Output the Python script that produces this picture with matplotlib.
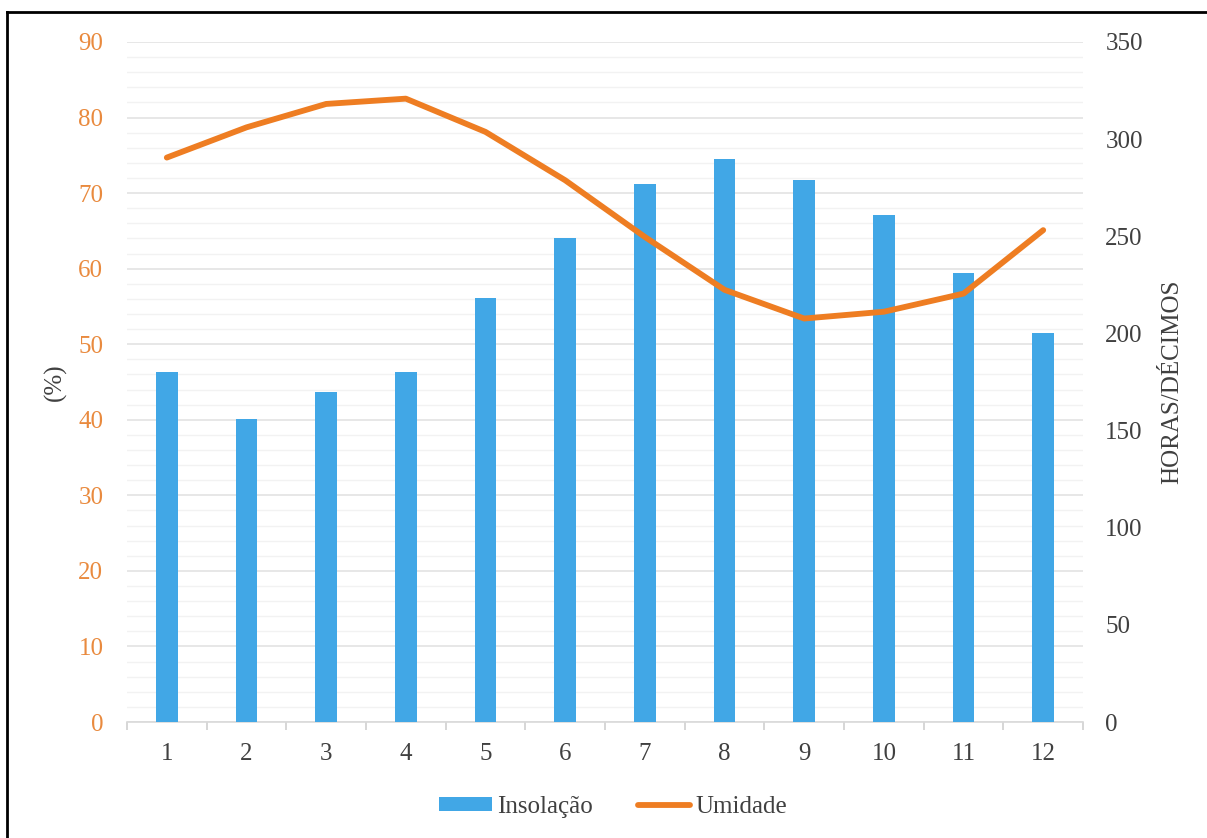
import matplotlib
matplotlib.use("Agg")
import matplotlib.pyplot as plt
from matplotlib.lines import Line2D
from matplotlib.patches import Patch
import numpy as np

plt.rcParams['font.family'] = ['Liberation Serif', 'DejaVu Serif']

months = ['1', '2', '3', '4', '5', '6', '7', '8', '9', '10', '11', '12']
insolacao = [180, 156, 170, 180, 218, 249, 277, 290, 279, 261, 231, 200]
umidade = [74.7, 78.7, 81.8, 82.5, 78.1, 71.7, 64.2, 57.2, 53.4, 54.3, 56.7, 65.1]

left_ticks = list(range(0, 91, 10))
right_ticks = list(range(0, 351, 50))

bar_color = '#41A7E6'
line_color = '#EE7D22'
grid_major = '#E3E3E3'
grid_minor = '#F2F2F2'
text_gray = '#404040'
label_orange = '#E98A3E'
FS = 18

fig = plt.figure(figsize=(12.07, 8.38), dpi=100)
ax = fig.add_axes([0.1052, 0.1384, 0.7921, 0.8115])
ax2 = ax.twinx()

x = np.arange(len(months))

# humidity axis (left) carries the grid
ax.set_ylim(0, 90)
ax.set_yticks(left_ticks)
ax.set_yticks(np.arange(0, 91, 2), minor=True)
ax.set_xlim(-0.5, len(months) - 0.5)
ax.grid(axis='y', which='major', color=grid_major, lw=1.2, zorder=0)
ax.grid(axis='y', which='minor', color=grid_minor, lw=1.0, zorder=0)
ax.set_axisbelow(True)
ax.tick_params(axis='y', which='both', length=0, labelsize=FS,
               labelcolor=label_orange, pad=17)
ax.set_ylabel('(%)', fontsize=FS, color=text_gray, labelpad=8)

# category ticks sit between the months
ax.set_xticks(x)
ax.set_xticklabels(months)
ax.set_xticks(np.arange(-0.5, len(months), 1), minor=True)
ax.tick_params(axis='x', which='major', length=0, labelsize=FS,
               labelcolor=text_gray, pad=15)
ax.tick_params(axis='x', which='minor', length=6, color='#D0D0D0', width=1.2)

for s in ['top', 'left', 'right']:
    ax.spines[s].set_visible(False)
ax.spines['bottom'].set_color('#D9D9D9')
ax.spines['bottom'].set_linewidth(1.2)

# sunshine hours (right axis) as bars
ax2.set_ylim(0, 350)
ax2.set_yticks(right_ticks)
ax2.bar(x, insolacao, width=0.27, color=bar_color, zorder=2)
ax2.tick_params(axis='y', length=0, labelsize=FS, labelcolor=text_gray, pad=16)
ax2.set_ylabel('HORAS/DÉCIMOS', fontsize=FS, color=text_gray, labelpad=13)
for s in ['top', 'left', 'right', 'bottom']:
    ax2.spines[s].set_visible(False)

# humidity line drawn above the bars
ax3 = ax.twinx()
ax3.set_ylim(0, 90)
ax3.axis('off')
ax3.plot(x, umidade, color=line_color, lw=4.2, solid_capstyle='round',
         solid_joinstyle='round', zorder=3)

handles = [Patch(facecolor=bar_color, edgecolor='none'),
           Line2D([0], [0], color=line_color, lw=4.2, solid_capstyle='round')]
fig.legend(handles, ['Insolação', 'Umidade'], loc='center',
           bbox_to_anchor=(0.508, 0.037), ncol=2, frameon=False,
           fontsize=FS, handlelength=2.1, handletextpad=0.2,
           columnspacing=1.8, labelcolor=text_gray, handleheight=0.5)

# outer frame
fig.add_artist(Line2D([0.006, 0.006], [0.0, 0.986], transform=fig.transFigure,
                      color='black', lw=2))
fig.add_artist(Line2D([0.006, 1.0], [0.986, 0.986], transform=fig.transFigure,
                      color='black', lw=2))

fig.savefig('out.png', dpi=100)
